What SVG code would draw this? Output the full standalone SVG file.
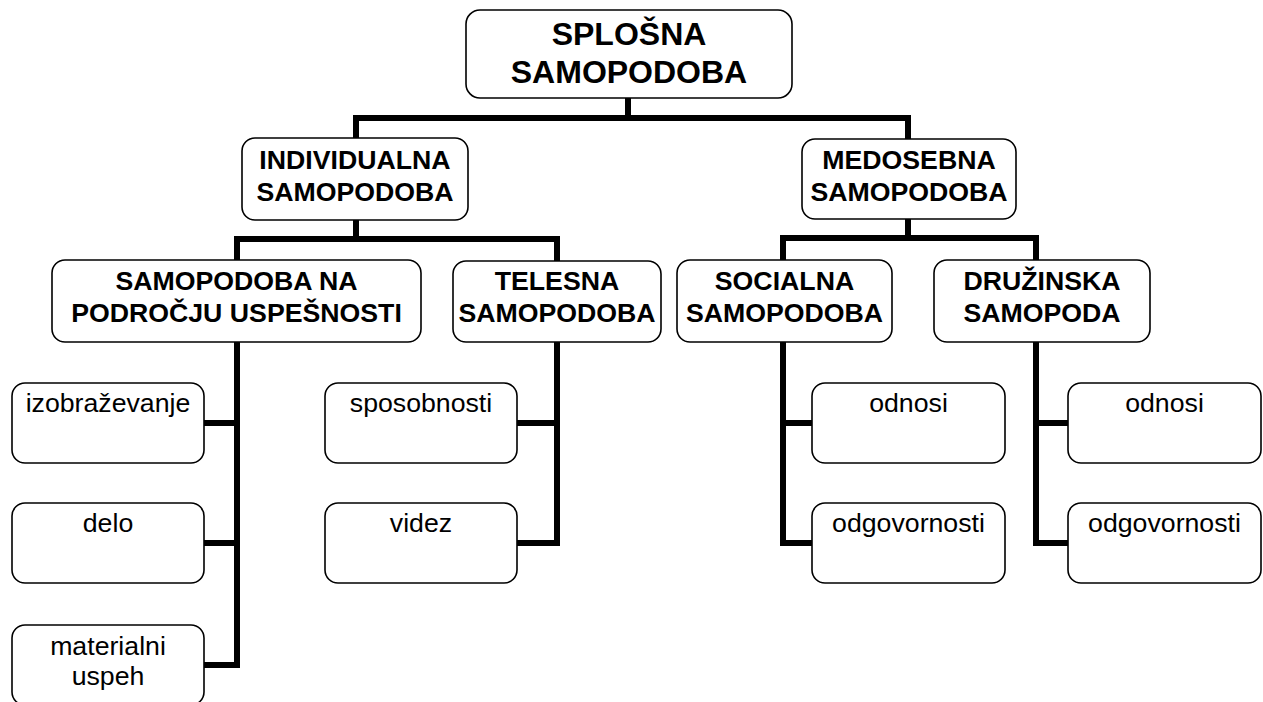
<svg xmlns="http://www.w3.org/2000/svg" width="1263" height="702" viewBox="0 0 1263 702">
<style>
.box{fill:#fff;stroke:#000;stroke-width:1.6}
.conn{fill:none;stroke:#000;stroke-width:6;stroke-linecap:square;stroke-linejoin:miter}
.h{font-family:"Liberation Sans",Arial,sans-serif;font-weight:bold;font-size:26.7px;text-anchor:middle;fill:#000}
.top{font-size:32px}
.t{font-family:"Liberation Sans",Arial,sans-serif;font-size:26.7px;text-anchor:middle;fill:#000}
</style>
<rect width="1263" height="702" fill="#fff"/>
<g id="connectors" class="conn">
<path d="M628,98 V118"/>
<path d="M356,118 H908"/>
<path d="M356,118 V138"/>
<path d="M908,118 V139"/>
<path d="M356,220 V239"/>
<path d="M237,239 H557"/>
<path d="M237,239 V260"/>
<path d="M557,239 V261"/>
<path d="M908,219 V238"/>
<path d="M783,238 H1036"/>
<path d="M783,238 V260"/>
<path d="M1036,238 V260"/>
<path d="M237,342 V665 H204"/>
<path d="M237,423 H204"/>
<path d="M237,543 H204"/>
<path d="M557,342 V543 H517"/>
<path d="M557,423 H517"/>
<path d="M783,342 V543 H812"/>
<path d="M783,423 H812"/>
<path d="M1036,342 V543 H1068"/>
<path d="M1036,423 H1068"/>
</g>
<g id="n-splosna">
<rect class="box" x="466" y="10" width="326" height="88" rx="14"/>
<text class="h top" x="629" y="45">SPLOŠNA</text>
<text class="h top" x="629" y="83">SAMOPODOBA</text>
</g>
<g id="n-individualna">
<rect class="box" x="242" y="138" width="226" height="82" rx="13"/>
<text class="h" x="355" y="169">INDIVIDUALNA</text>
<text class="h" x="355" y="201">SAMOPODOBA</text>
</g>
<g id="n-medosebna">
<rect class="box" x="802" y="139" width="214" height="80" rx="13"/>
<text class="h" x="909" y="169">MEDOSEBNA</text>
<text class="h" x="909" y="201">SAMOPODOBA</text>
</g>
<g id="n-uspesnost">
<rect class="box" x="52" y="260" width="369" height="82" rx="13"/>
<text class="h" x="236.5" y="290">SAMOPODOBA NA</text>
<text class="h" x="236.5" y="322">PODROČJU USPEŠNOSTI</text>
</g>
<g id="n-telesna">
<rect class="box" x="453" y="261" width="208" height="81" rx="13"/>
<text class="h" x="557" y="290">TELESNA</text>
<text class="h" x="557" y="322">SAMOPODOBA</text>
</g>
<g id="n-socialna">
<rect class="box" x="677" y="260" width="215" height="82" rx="13"/>
<text class="h" x="784.5" y="290">SOCIALNA</text>
<text class="h" x="784.5" y="322">SAMOPODOBA</text>
</g>
<g id="n-druzinska">
<rect class="box" x="934" y="260" width="216" height="82" rx="13"/>
<text class="h" x="1042" y="290">DRUŽINSKA</text>
<text class="h" x="1042" y="322">SAMOPODA</text>
</g>
<g id="n-izobrazevanje">
<rect class="box" x="12" y="383" width="192" height="80" rx="13"/>
<text class="t" x="108" y="412">izobraževanje</text>
</g>
<g id="n-delo">
<rect class="box" x="12" y="503" width="192" height="80" rx="13"/>
<text class="t" x="108" y="532">delo</text>
</g>
<g id="n-materialni">
<rect class="box" x="12" y="625" width="192" height="80" rx="13"/>
<text class="t" x="108" y="655">materialni</text>
<text class="t" x="108" y="685">uspeh</text>
</g>
<g id="n-sposobnosti">
<rect class="box" x="325" y="383" width="192" height="80" rx="13"/>
<text class="t" x="421" y="412">sposobnosti</text>
</g>
<g id="n-videz">
<rect class="box" x="325" y="503" width="192" height="80" rx="13"/>
<text class="t" x="421" y="532">videz</text>
</g>
<g id="n-odnosi1">
<rect class="box" x="812" y="383" width="193" height="80" rx="13"/>
<text class="t" x="908.5" y="412">odnosi</text>
</g>
<g id="n-odgovornosti1">
<rect class="box" x="812" y="503" width="193" height="80" rx="13"/>
<text class="t" x="908.5" y="532">odgovornosti</text>
</g>
<g id="n-odnosi2">
<rect class="box" x="1068" y="383" width="193" height="80" rx="13"/>
<text class="t" x="1164.5" y="412">odnosi</text>
</g>
<g id="n-odgovornosti2">
<rect class="box" x="1068" y="503" width="193" height="80" rx="13"/>
<text class="t" x="1164.5" y="532">odgovornosti</text>
</g>
</svg>
